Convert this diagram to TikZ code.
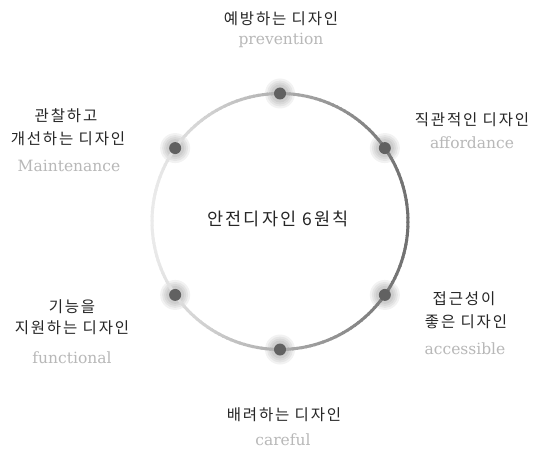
\documentclass[tikz,border=0pt]{standalone}
\usepackage{fontspec}
\usetikzlibrary{calc}
\setmainfont{DejaVu Serif}
\newfontfamily\kr[LetterSpace=12]{Noto Sans CJK KR}
\begin{document}
\begin{tikzpicture}[x=1pt,y=-1pt,
  kor/.style={font=\kr\fontsize{15.5}{18}\selectfont, text=black!85, inner sep=0pt},
  eng/.style={font=\fontsize{15.5}{17}\selectfont, text=black!28, inner sep=0pt},
  dot/.style={circle, fill=black!62, minimum size=12pt, inner sep=0pt}]
\useasboundingbox[fill=white] (0,0) rectangle (537,449);
\coordinate (c) at (280,221.5);
% glows
\foreach \a [count=\i] in {-90,-35,35,90,145,-145}{
  \coordinate (p\i) at ($(c)+(\a:128)$);
}
\foreach \i in {1,...,6}{
  \foreach \r in {15,13,11,9}{
    \fill[black, opacity=0.05] (p\i) circle (\r);
  }
}
% gradient ring
\foreach \a in {0,2,...,358}{
  \pgfmathsetmacro\g{32+24*cos(\a)}
  \draw[line width=3pt, color=black!\g] ($(c)+(\a:128)$) arc (\a:\a+2.6:128);
}
\foreach \i in {1,...,6}{
  \node[dot] (d\i) at (p\i) {};
}
\node[font=\kr\fontsize{17.5}{20}\selectfont, text=black!85, inner sep=0pt] (title) at (278,219) {안전디자인 6원칙};
% labels
\node[kor] (t1) at (281,19) {예방하는 디자인};
\node[eng] (e1) at (281,40) {prevention};
\node[kor] (t2) at (472,120) {직관적인 디자인};
\node[eng] (e2) at (472,143) {affordance};
\node[kor] (t3a) at (464,299) {접근성이};
\node[kor] (t3b) at (466,322) {좋은 디자인};
\node[eng] (e3) at (465,349) {accessible};
\node[kor] (t4) at (284,415) {배려하는 디자인};
\node[eng] (e4) at (283,440) {careful};
\node[kor] (t5a) at (72,307) {기능을};
\node[kor] (t5b) at (72,328) {지원하는 디자인};
\node[eng] (e5) at (72,358) {functional};
\node[kor] (t6a) at (66,116) {관찰하고};
\node[kor] (t6b) at (68,139) {개선하는 디자인};
\node[eng] (e6) at (69,166) {Maintenance};
\end{tikzpicture}
\end{document}
